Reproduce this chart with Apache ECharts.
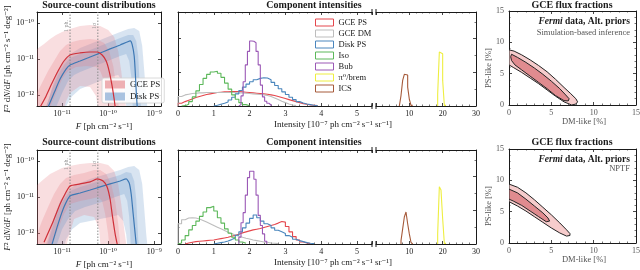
<!DOCTYPE html>
<html><head><meta charset="utf-8">
<script src="https://cdn.jsdelivr.net/npm/echarts@6/dist/echarts.min.js"></script>
<style>html,body{margin:0;padding:0;background:#fff}#c{width:640px;height:270px}</style>
</head><body><div id="c"></div>
<script>
// ---------------- DATA ----------------
// Panel 1: source-count distributions, [F, F^2 dN/dF]
const redLineTop = [[3.33e-12,4.64e-13],[4.49e-12,9.37e-13],[6.07e-12,2.15e-12],[8.18e-12,4.64e-12],[1.10e-11,8.80e-12],[1.49e-11,1.29e-11],[2.46e-11,1.47e-11],[4.06e-11,1.56e-11],[5.77e-11,1.56e-11],[7.41e-11,1.29e-11],[9.06e-11,8.80e-12],[1.05e-10,4.64e-12],[1.22e-10,1.78e-12],[1.35e-10,7.74e-13],[1.42e-10,4.64e-13]];
const blueLineTop = [[4.97e-12,4.64e-13],[6.70e-12,1.14e-12],[9.06e-12,2.78e-12],[1.22e-11,5.27e-12],[1.49e-11,6.81e-12],[2.46e-11,8.80e-12],[4.06e-11,1.14e-11],[6.70e-11,1.47e-11],[1.10e-10,1.90e-11],[1.82e-10,2.45e-11],[2.59e-10,2.96e-11],[3.01e-10,3.16e-11],[3.33e-10,2.45e-11],[3.67e-10,1.21e-11],[3.86e-10,4.64e-12],[4.06e-10,1.29e-12],[4.27e-10,4.64e-13]];
const redOuterUpTop = [[2.86e-12,1.90e-11],[4.06e-12,2.61e-11],[5.50e-12,3.59e-11],[7.41e-12,4.64e-11],[1.00e-11,5.62e-11],[1.49e-11,6.81e-11],[2.46e-11,8.25e-11],[4.06e-11,8.80e-11],[6.70e-11,8.25e-11],[1.00e-10,6.39e-11],[1.35e-10,4.08e-11],[1.65e-10,1.67e-11],[1.92e-10,4.64e-12],[2.23e-10,9.37e-13],[2.46e-10,4.64e-13],[2.59e-10,2.61e-13]];
const redOuterLoTop = [[2.59e-10,2.61e-13],[6.37e-11,2.61e-13],[5.48e-11,9.37e-13],[4.06e-11,1.67e-12],[2.46e-11,1.78e-12],[1.49e-11,1.14e-12],[1.22e-11,6.81e-13],[1.00e-11,2.61e-13],[2.86e-12,2.61e-13]];
const redMidUpTop = [[2.86e-12,1.14e-12],[3.67e-12,2.15e-12],[4.97e-12,4.64e-12],[6.70e-12,8.80e-12],[9.06e-12,1.67e-11],[1.22e-11,2.45e-11],[1.65e-11,2.96e-11],[2.46e-11,3.37e-11],[4.06e-11,3.59e-11],[6.07e-11,3.37e-11],[8.18e-11,2.78e-11],[1.05e-10,1.67e-11],[1.29e-10,6.39e-12],[1.49e-10,1.78e-12],[1.65e-10,6.81e-13],[1.73e-10,3.59e-13]];
const redMidLoTop = [[1.73e-10,2.61e-13],[1.05e-10,2.61e-13],[9.50e-11,9.37e-13],[8.18e-11,2.45e-12],[6.70e-11,4.64e-12],[5.48e-11,6.00e-12],[3.33e-11,6.39e-12],[2.01e-11,6.00e-12],[1.35e-11,4.64e-12],[1.00e-11,2.78e-12],[7.41e-12,1.14e-12],[5.50e-12,4.64e-13],[4.06e-12,2.61e-13],[2.86e-12,2.61e-13]];
const blueOuterUpTop = [[3.67e-12,2.61e-13],[4.97e-12,6.81e-13],[6.70e-12,2.45e-12],[9.06e-12,6.00e-12],[1.22e-11,1.00e-11],[1.65e-11,1.47e-11],[2.46e-11,2.02e-11],[4.06e-11,2.61e-11],[6.70e-11,3.37e-11],[1.10e-10,4.36e-11],[1.82e-10,5.62e-11],[2.72e-10,6.81e-11],[3.67e-10,7.26e-11],[4.72e-10,6.00e-11],[5.48e-10,2.30e-11],[6.07e-10,4.64e-12],[6.70e-10,9.37e-13],[7.41e-10,2.61e-13]];
const blueOuterLoTop = [[7.41e-10,2.61e-13],[2.59e-10,2.61e-13],[2.34e-10,9.37e-13],[2.01e-10,2.45e-12],[1.65e-10,3.59e-12],[1.10e-10,3.16e-12],[6.70e-11,2.45e-12],[4.06e-11,1.90e-12],[2.46e-11,1.47e-12],[1.65e-11,9.37e-13],[1.22e-11,4.94e-13],[9.06e-12,2.61e-13],[3.67e-12,2.61e-13]];
const blueMidUpTop = [[4.49e-12,4.64e-13],[6.07e-12,1.47e-12],[8.18e-12,3.59e-12],[1.10e-11,6.81e-12],[1.49e-11,1.07e-11],[2.46e-11,1.38e-11],[4.06e-11,1.78e-11],[6.70e-11,2.30e-11],[1.10e-10,2.96e-11],[1.82e-10,3.83e-11],[2.72e-10,4.64e-11],[3.49e-10,4.64e-11],[4.06e-10,3.16e-11],[4.49e-10,1.21e-11],[4.72e-10,3.37e-12],[4.97e-10,9.37e-13],[5.22e-10,3.59e-13]];
const blueMidLoTop = [[5.22e-10,2.61e-13],[3.49e-10,2.61e-13],[3.33e-10,9.37e-13],[3.16e-10,3.37e-12],[2.86e-10,8.80e-12],[2.46e-10,1.38e-11],[1.82e-10,1.21e-11],[1.10e-10,9.37e-12],[6.70e-11,7.26e-12],[4.06e-11,5.62e-12],[2.46e-11,4.36e-12],[1.82e-11,3.59e-12],[1.35e-11,2.45e-12],[1.00e-11,1.14e-12],[7.41e-12,4.64e-13],[5.50e-12,2.61e-13]];

const redLineBot = [[4.06e-12,5.62e-13],[6.07e-12,1.78e-12],[9.06e-12,6.39e-12],[1.16e-11,1.21e-11],[1.49e-11,2.02e-11],[2.46e-11,2.30e-11],[4.06e-11,2.61e-11],[5.77e-11,3.16e-11],[7.78e-11,2.78e-11],[9.50e-11,1.90e-11],[1.10e-10,8.80e-12],[1.22e-10,3.37e-12],[1.42e-10,9.37e-13],[1.57e-10,4.94e-13]];
const blueLineBot = [[6.07e-12,4.94e-13],[8.18e-12,1.78e-12],[1.10e-11,5.27e-12],[1.49e-11,1.07e-11],[2.46e-11,1.29e-11],[4.06e-11,1.56e-11],[6.70e-11,1.90e-11],[1.10e-10,2.30e-11],[1.82e-10,2.78e-11],[2.46e-10,3.16e-11],[2.86e-10,2.45e-11],[3.16e-10,1.21e-11],[3.49e-10,3.37e-12],[3.86e-10,9.37e-13],[4.06e-10,4.94e-13]];
const redOuterUpBot = [[2.86e-12,2.15e-11],[4.06e-12,3.16e-11],[5.50e-12,4.36e-11],[7.41e-12,5.27e-11],[1.00e-11,6.39e-11],[1.49e-11,7.26e-11],[2.46e-11,8.25e-11],[4.06e-11,8.80e-11],[6.70e-11,8.80e-11],[1.00e-10,7.74e-11],[1.35e-10,5.27e-11],[1.65e-10,2.30e-11],[1.92e-10,6.39e-12],[2.23e-10,1.29e-12],[2.46e-10,4.94e-13],[2.59e-10,2.61e-13]];
const redOuterLoBot = [[2.59e-10,2.61e-13],[7.05e-11,2.61e-13],[6.37e-11,1.29e-12],[4.97e-11,2.78e-12],[3.01e-11,3.16e-12],[1.82e-11,2.45e-12],[1.35e-11,6.81e-13],[1.10e-11,2.61e-13],[2.86e-12,2.61e-13]];
const redMidUpBot = [[2.86e-12,9.37e-13],[3.67e-12,2.15e-12],[4.97e-12,5.27e-12],[6.70e-12,1.21e-11],[9.06e-12,2.30e-11],[1.22e-11,3.37e-11],[1.82e-11,4.08e-11],[3.01e-11,4.64e-11],[4.97e-11,5.62e-11],[6.70e-11,5.62e-11],[9.06e-11,4.36e-11],[1.16e-10,2.30e-11],[1.42e-10,7.74e-12],[1.65e-10,1.78e-12],[1.82e-10,4.94e-13],[1.92e-10,2.61e-13]];
const redMidLoBot = [[1.92e-10,2.61e-13],[1.10e-10,2.61e-13],[1.00e-10,9.37e-13],[8.61e-11,3.37e-12],[7.41e-11,7.74e-12],[6.07e-11,1.00e-11],[4.06e-11,8.80e-12],[2.46e-11,7.74e-12],[1.49e-11,6.39e-12],[1.10e-11,3.37e-12],[8.18e-12,1.29e-12],[6.07e-12,4.94e-13],[4.49e-12,2.61e-13],[2.86e-12,2.61e-13]];
const blueOuterUpBot = [[3.67e-12,2.61e-13],[4.97e-12,6.81e-13],[6.70e-12,2.78e-12],[9.06e-12,7.74e-12],[1.22e-11,1.29e-11],[1.65e-11,1.90e-11],[2.46e-11,2.45e-11],[4.06e-11,3.16e-11],[6.70e-11,3.83e-11],[1.10e-10,4.64e-11],[1.82e-10,5.62e-11],[2.72e-10,6.81e-11],[3.67e-10,7.26e-11],[4.72e-10,5.62e-11],[5.48e-10,2.30e-11],[6.07e-10,4.64e-12],[6.70e-10,9.37e-13],[7.41e-10,2.61e-13]];
const blueOuterLoBot = [[7.41e-10,2.61e-13],[2.72e-10,2.61e-13],[2.46e-10,9.37e-13],[2.12e-10,2.15e-12],[1.65e-10,3.16e-12],[1.10e-10,2.78e-12],[6.70e-11,2.45e-12],[4.06e-11,2.15e-12],[2.46e-11,1.90e-12],[1.65e-11,1.29e-12],[1.22e-11,6.81e-13],[1.00e-11,2.61e-13],[3.67e-12,2.61e-13]];
const blueMidUpBot = [[4.49e-12,3.59e-13],[6.07e-12,1.29e-12],[8.18e-12,4.08e-12],[1.10e-11,8.80e-12],[1.49e-11,1.47e-11],[2.46e-11,1.90e-11],[4.06e-11,2.30e-11],[6.70e-11,2.78e-11],[1.10e-10,3.37e-11],[1.82e-10,4.08e-11],[2.46e-10,4.94e-11],[3.16e-10,4.64e-11],[3.67e-10,2.78e-11],[4.06e-10,8.80e-12],[4.27e-10,2.45e-12],[4.49e-10,6.81e-13],[4.72e-10,2.61e-13]];
const blueMidLoBot = [[4.72e-10,2.61e-13],[3.16e-10,2.61e-13],[3.01e-10,9.37e-13],[2.86e-10,2.78e-12],[2.59e-10,7.74e-12],[2.23e-10,1.21e-11],[1.42e-10,1.00e-11],[8.61e-11,7.74e-12],[5.22e-11,6.39e-12],[3.16e-11,5.27e-12],[1.92e-11,4.08e-12],[1.35e-11,2.45e-12],[1.00e-11,1.29e-12],[7.78e-12,4.94e-13],[6.07e-12,2.61e-13]];
const fluxLines = [1.49e-11, 5.97e-11];
const fluxLineNames = ['1 ph.', '1σ'];
const p1XTicks = [1e-11, 1e-10, 1e-9];
const p1YTicks = [1e-12, 1e-11, 1e-10];

// Panel 2: component intensity histograms {start, width, counts}
const histNames = ['GCE PS','GCE DM','Disk PS','Iso','Bub','π⁰/brem','ICS'];
const histTop = {
  'GCE PS': {start:0.0, width:0.1, counts:[0.08,0.13,0.17,0.21,0.25,0.28,0.31,0.34,0.36,0.38,0.40,0.41,0.42,0.42,0.43,0.43,0.43,0.42,0.41,0.40,0.39,0.38,0.37,0.36,0.35,0.33,0.31,0.28,0.25,0.22,0.19,0.16,0.13,0.10,0.07,0.05,0.03,0.02,0.01]},
  'GCE DM': {start:0.0, width:0.1, counts:[0.28,0.33,0.35,0.37,0.38,0.39,0.39,0.40,0.40,0.40,0.40,0.40,0.40,0.40,0.40,0.40,0.39,0.39,0.38,0.37,0.36,0.35,0.34,0.33,0.31,0.28,0.24,0.19,0.14,0.10,0.06,0.03,0.01]},
  'Disk PS': {start:1.0, width:0.1, counts:[0.02,0.05,0.08,0.12,0.18,0.26,0.36,0.46,0.56,0.65,0.72,0.78,0.82,0.84,0.83,0.78,0.70,0.61,0.51,0.42,0.34,0.26,0.19,0.13,0.09,0.06,0.04,0.02,0.01]},
  'Iso': {start:0.1, width:0.1, counts:[0.01,0.05,0.13,0.27,0.45,0.64,0.82,0.94,1.01,1.03,0.97,0.85,0.68,0.50,0.33,0.20,0.10,0.04,0.01]},
  'Bub': {start:1.70, width:0.06, counts:[0.04,0.30,0.72,1.22,1.62,1.93,1.92,1.88,1.62,1.22,0.62,0.27,0.14,0.08,0.03]},
  'π⁰/brem': {start:18.5, width:0.5, counts:[0.35,1.60,1.55,0.76,0.02]},
  'ICS': {start:7.0, width:0.5, counts:[0.05,0.31,0.76,0.94,0.92,0.56,0.20,0.02]}
};
const histBot = {
  'GCE PS': {start:0.2, width:0.1, counts:[0.03,0.05,0.07,0.08,0.09,0.10,0.11,0.12,0.14,0.16,0.18,0.20,0.23,0.26,0.29,0.33,0.36,0.39,0.42,0.44,0.46,0.49,0.52,0.55,0.58,0.62,0.67,0.65,0.52,0.36,0.22,0.12,0.06,0.03,0.01]},
  'GCE DM': {start:0.0, width:0.1, counts:[0.60,0.72,0.77,0.78,0.77,0.74,0.70,0.65,0.60,0.55,0.50,0.45,0.40,0.35,0.31,0.27,0.23,0.20,0.17,0.15,0.12,0.10,0.08,0.06,0.05,0.03,0.02,0.01]},
  'Disk PS': {start:1.0, width:0.1, counts:[0.02,0.04,0.06,0.09,0.13,0.18,0.26,0.36,0.48,0.62,0.76,0.86,0.78,0.68,0.60,0.55,0.48,0.41,0.36,0.31,0.25,0.20,0.14,0.10,0.07,0.04,0.02,0.01]},
  'Iso': {start:0.0, width:0.1, counts:[0.03,0.12,0.25,0.42,0.55,0.68,0.82,0.95,1.08,1.12,0.98,0.78,0.62,0.45,0.32,0.20,0.12,0.06,0.02]},
  'Bub': {start:1.70, width:0.06, counts:[0.20,0.63,0.93,1.45,1.97,2.16,2.16,1.92,1.45,0.85,0.55,0.30,0.08]},
  'π⁰/brem': {start:18.5, width:0.5, counts:[0.30,1.70,1.60,0.75,0.02]},
  'ICS': {start:7.5, width:0.5, counts:[0.10,0.45,0.80,0.95,0.60,0.30,0.05]}
};

// Panel 3: GCE flux fraction contours [DM-like %, PS-like %]
const contourOuterTop = [[0,8.8],[0.6,8.6],[1.5,8.0],[2.5,7.2],[3.5,6.3],[4.5,5.3],[5.5,4.1],[6.5,2.8],[7.3,1.8],[7.9,1.0],[8.1,0.5],[7.9,0.15],[7.4,0.0],[6.5,0.5],[5.5,1.4],[4.5,2.4],[3.5,3.4],[2.5,4.3],[1.5,5.2],[0.5,6.0],[0,6.4]];
const contourInnerTop = [[0.3,8.1],[1,7.6],[2,6.8],[3,5.9],[4,4.9],[5,3.8],[6,2.6],[6.7,1.6],[7.1,1.0],[7.0,0.65],[6.5,0.7],[5.5,1.5],[4.5,2.6],[3.5,3.6],[2.5,4.6],[1.5,5.6],[0.7,6.4],[0.3,7.1],[0.2,7.7]];
const contourOuterBot = [[0,9.4],[1,8.9],[2,8.0],[3,6.9],[4,5.7],[5,4.5],[6,3.2],[6.8,2.1],[7.2,1.5],[7.2,1.2],[6.8,1.1],[6,1.6],[5,2.4],[4,3.3],[3,4.2],[2,5.1],[1,5.9],[0,6.6]];
const contourInnerBot = [[0,8.6],[1,8.0],[2,7.0],[3,5.9],[4,4.8],[4.6,4.0],[4.8,3.5],[4.4,3.4],[3.5,4.2],[2.5,5.1],[1.5,6.0],[0.5,6.7],[0,7.0]];

// ---------------- STYLE / LAYOUT ----------------
const FONT = '"Liberation Serif", "DejaVu Serif", serif';
const INK = '#1a1a1a';
const histColors = {'GCE PS':'#e5474d','GCE DM':'#bdbdbd','Disk PS':'#4a86bd','Iso':'#5cb85a','Bub':'#9b59b6','π⁰/brem':'#eeee40','ICS':'#a65a3a'};
const RED_LINE = '#cf3039', BLUE_LINE = '#3d78b4';
const RED_BAND = 'rgba(228,118,124,0.24)', BLUE_BAND = 'rgba(92,142,196,0.24)';
const SUP = {'-':'⁻','0':'⁰','1':'¹','2':'²','3':'³','4':'⁴','5':'⁵','6':'⁶','7':'⁷','8':'⁸','9':'⁹'};
const supNum = n => String(n).split('').map(c => SUP[c]).join('');
const logFmt = v => '10' + supNum(Math.round(Math.log10(v)));

const rowTops = [12, 150];
const grids = [], xAxes = [], yAxes = [], series = [], graphic = [];
const p1XIndex = [];

function tickCfg(extra) { return Object.assign({show:true, inside:true, length:3, lineStyle:{color:INK, width:0.8}}, extra || {}); }
function minorCfg(n) { return {show:true, splitNumber:n, length:1.5, lineStyle:{color:INK, width:0.6}}; }
function axisLineCfg(show) { return {show: show, onZero:false, lineStyle:{color:INK, width:1}}; }
function labelCfg(show, extra) { return Object.assign({show: show, fontFamily: FONT, fontSize: 8, color: INK, margin: 4}, extra || {}); }

function addX(o) { xAxes.push(Object.assign({splitLine:{show:false}}, o)); return xAxes.length - 1; }
function addY(o) { yAxes.push(Object.assign({splitLine:{show:false}}, o)); return yAxes.length - 1; }

function polygonSeries(name, pts, xi, yi, fill, stroke, z) {
  return {
    type:'custom', name, xAxisIndex:xi, yAxisIndex:yi, silent:true, animation:false, z: z,
    data: pts, encode:{x:0, y:1},
    renderItem: function (params, api) {
      if (params.dataIndex !== 0) return null;
      const cs = params.coordSys;
      return {
        type:'polygon', shape:{points: pts.map(p => api.coord(p))},
        style:{fill: fill, stroke: stroke || null, lineWidth: stroke ? 1 : 0},
        clipPath:{type:'rect', shape:{x:cs.x, y:cs.y, width:cs.width, height:cs.height}}
      };
    }
  };
}
function histSeries(name, h, xi, yi) {
  const pts = [[h.start, 0]];
  h.counts.forEach((c, i) => pts.push([h.start + i * h.width, c]));
  pts.push([h.start + h.counts.length * h.width, 0]);
  return {type:'line', name, xAxisIndex:xi, yAxisIndex:yi, data:pts, step:'end', symbol:'none', showSymbol:false,
    lineStyle:{color:histColors[name], width:1.1}, itemStyle:{color:histColors[name]}, silent:true, animation:false, z:3};
}
function txt(x, y, text, font, o) {
  o = o || {};
  const align = o.align || 'center';
  graphic.push({type:'text', x:x, y:y, rotation:o.rot || 0, silent:true, z:50,
    style:{text:text, font:font, fill:o.fill || INK, align:align, verticalAlign:'middle', textAlign:align, textVerticalAlign:'middle', rich:o.rich}});
}

const rowData = [
  {line:[redLineTop, blueLineTop], red:[redOuterUpTop, redOuterLoTop, redMidUpTop, redMidLoTop], blue:[blueOuterUpTop, blueOuterLoTop, blueMidUpTop, blueMidLoTop], hist:histTop, contour:[contourOuterTop, contourInnerTop]},
  {line:[redLineBot, blueLineBot], red:[redOuterUpBot, redOuterLoBot, redMidUpBot, redMidLoBot], blue:[blueOuterUpBot, blueOuterLoBot, blueMidUpBot, blueMidLoBot], hist:histBot, contour:[contourOuterBot, contourInnerBot]}
];

rowData.forEach((rd, r) => {
  const top = rowTops[r];
  // ---- Panel 1 ----
  let g = grids.length;
  grids.push({left:37, top:top, width:124, height:94, outerBoundsMode:'none'});
  const logX = {type:'log', logBase:10, min:2.86e-12, max:1.4e-9, gridIndex:g};
  const logY = {type:'log', logBase:10, min:5e-13, max:2e-10, gridIndex:g};
  const x1 = addX(Object.assign({}, logX, {position:'bottom', axisLine:axisLineCfg(true), axisTick:tickCfg({customValues:p1XTicks}), axisLabel:labelCfg(true, {customValues:p1XTicks, formatter:logFmt})}));
  p1XIndex.push(x1);
  addX(Object.assign({}, logX, {position:'top', axisLine:axisLineCfg(true), axisTick:tickCfg({customValues:p1XTicks}), axisLabel:labelCfg(false)}));
  const y1 = addY(Object.assign({}, logY, {position:'left', axisLine:axisLineCfg(true), axisTick:tickCfg({customValues:p1YTicks}), axisLabel:labelCfg(true, {customValues:p1YTicks, formatter:logFmt, margin:3})}));
  addY(Object.assign({}, logY, {position:'right', axisLine:axisLineCfg(true), axisTick:tickCfg({customValues:p1YTicks}), axisLabel:labelCfg(false)}));
  series.push(polygonSeries('Disk PS', rd.blue[0].concat(rd.blue[1]), x1, y1, BLUE_BAND, null, 1));
  series.push(polygonSeries('GCE PS', rd.red[0].concat(rd.red[1]), x1, y1, RED_BAND, null, 1));
  series.push(polygonSeries('Disk PS', rd.blue[2].concat(rd.blue[3]), x1, y1, BLUE_BAND, null, 1));
  series.push(polygonSeries('GCE PS', rd.red[2].concat(rd.red[3]), x1, y1, RED_BAND, null, 1));
  fluxLines.forEach(v => series.push({type:'line', name:'flux-ref', xAxisIndex:x1, yAxisIndex:y1, data:[[v, 5e-13],[v, 2e-10]],
    symbol:'none', showSymbol:false, silent:true, animation:false, z:2, lineStyle:{color:'#8c8c8c', width:1, type:[1.5, 1.5]}}));
  series.push({type:'line', name:'Disk PS', xAxisIndex:x1, yAxisIndex:y1, data:rd.line[1], smooth:0.2, symbol:'none', showSymbol:false, clip:true, silent:true, animation:false, z:4,
    lineStyle:{color:BLUE_LINE, width:1.2}, itemStyle:{color:BLUE_LINE}});
  series.push({type:'line', name:'GCE PS', xAxisIndex:x1, yAxisIndex:y1, data:rd.line[0], smooth:0.2, symbol:'none', showSymbol:false, clip:true, silent:true, animation:false, z:4,
    lineStyle:{color:RED_LINE, width:1.2}, itemStyle:{color:RED_LINE}});

  // ---- Panel 2 left ----
  g = grids.length;
  grids.push({left:178, top:top, width:194, height:94, outerBoundsMode:'none'});
  const linX2 = {type:'value', min:0, max:5.42, interval:1, gridIndex:g};
  const linY2 = {type:'value', min:0, max:2.79, interval:1, gridIndex:g};
  const x2 = addX(Object.assign({}, linX2, {position:'bottom', axisLine:axisLineCfg(true), axisTick:tickCfg(), minorTick:minorCfg(5), axisLabel:labelCfg(true, {showMaxLabel:false})}));
  addX(Object.assign({}, linX2, {position:'top', axisLine:axisLineCfg(true), axisTick:tickCfg(), minorTick:minorCfg(5), axisLabel:labelCfg(false)}));
  const y2 = addY(Object.assign({}, linY2, {position:'left', axisLine:axisLineCfg(true), axisTick:tickCfg(), minorTick:minorCfg(2), axisLabel:labelCfg(false)}));
  ['GCE PS','GCE DM','Disk PS','Iso','Bub'].forEach(n => series.push(histSeries(n, rd.hist[n], x2, y2)));

  // ---- Panel 2 right ----
  g = grids.length;
  grids.push({left:376, top:top, width:100, height:94, outerBoundsMode:'none'});
  const linX3 = {type:'value', min:0, max:30, interval:10, gridIndex:g};
  const x3 = addX(Object.assign({}, linX3, {position:'bottom', axisLine:axisLineCfg(true), axisTick:tickCfg(), minorTick:minorCfg(5), axisLabel:labelCfg(true, {showMinLabel:false})}));
  addX(Object.assign({}, linX3, {position:'top', axisLine:axisLineCfg(true), axisTick:tickCfg(), minorTick:minorCfg(5), axisLabel:labelCfg(false)}));
  const y3 = addY({type:'value', min:0, max:2.79, interval:1, gridIndex:g, position:'right', axisLine:axisLineCfg(true), axisTick:tickCfg(), minorTick:minorCfg(2), axisLabel:labelCfg(false), splitLine:{show:false}});
  ['π⁰/brem','ICS'].forEach(n => series.push(histSeries(n, rd.hist[n], x3, y3)));

  // ---- Panel 3 ----
  g = grids.length;
  grids.push({left:509, top:top - 1, width:127, height:94, outerBoundsMode:'none'});
  const lin4 = {type:'value', min:0, max:15, interval:5, gridIndex:g};
  const grayLbl = {color:'#555'};
  const x4 = addX(Object.assign({}, lin4, {position:'bottom', axisLine:axisLineCfg(true), axisTick:tickCfg(), minorTick:minorCfg(5), axisLabel:labelCfg(true, grayLbl)}));
  addX(Object.assign({}, lin4, {position:'top', axisLine:axisLineCfg(true), axisTick:tickCfg(), minorTick:minorCfg(5), axisLabel:labelCfg(false)}));
  const y4 = addY(Object.assign({}, lin4, {position:'left', axisLine:axisLineCfg(true), axisTick:tickCfg(), minorTick:minorCfg(5), axisLabel:labelCfg(true, Object.assign({margin:5}, grayLbl))}));
  addY(Object.assign({}, lin4, {position:'right', axisLine:axisLineCfg(true), axisTick:tickCfg(), minorTick:minorCfg(5), axisLabel:labelCfg(false)}));
  series.push(polygonSeries('95%', rd.contour[0], x4, y4, '#f6cccc', '#222', 2));
  series.push(polygonSeries('68%', rd.contour[1], x4, y4, '#e08b8f', '#222', 3));

  // ---- texts ----
  const ty = r === 0 ? 5 : 142;
  const boldT = 'bold 10px ' + FONT;
  txt(99, ty, 'Source-count distributions', boldT);
  txt(314, ty, 'Component intensities', boldT);
  txt(572, ty, 'GCE flux fractions', boldT);
  const italicRich = {i:{fontStyle:'italic', fontFamily:FONT, fontSize:9, fill:INK}};
  txt(8, top + 47, '{i|F}² d{i|N}/d{i|F} [ph cm⁻² s⁻¹ deg⁻²]', '9px ' + FONT, {rot:Math.PI / 2, rich:italicRich});
  txt(104, top + 115, '{i|F} [ph cm⁻² s⁻¹]', '9px ' + FONT, {rich:italicRich});
  txt(333, top + 113, 'Intensity [10⁻⁷ ph cm⁻² s⁻¹ sr⁻¹]', '9px ' + FONT);
  txt(584, top + 110, 'DM-like [%]', '8.5px ' + FONT, {fill:'#555'});
  txt(489, top + 56, 'PS-like [%]', '8.5px ' + FONT, {fill:'#555', rot:Math.PI / 2});
  txt(630, top + 10, '{b|Fermi} data, Alt. priors', 'bold 9.5px ' + FONT, {align:'right', rich:{b:{fontStyle:'italic', fontWeight:'bold', fontFamily:FONT, fontSize:9.5, fill:INK}}});
  if (r === 0) txt(630, top + 21, 'Simulation-based inference', '8.5px ' + FONT, {align:'right', fill:'#555'});
  else txt(630, top + 19, 'NPTF', '8.5px ' + FONT, {align:'right', fill:'#555'});
  // axis-break marks
  [372, 376].forEach(bx => [top, top + 94].forEach(by => graphic.push({type:'line', silent:true, z:50, shape:{x1:bx, y1:by - 3, x2:bx, y2:by + 3}, style:{stroke:INK, lineWidth:1}})));
});

const option = {
  animation:false,
  backgroundColor:'#fff',
  textStyle:{fontFamily:FONT},
  grid: grids, xAxis: xAxes, yAxis: yAxes, series: series, graphic: graphic,
  legend: [
    {left:310, top:13, orient:'vertical', itemWidth:18, itemHeight:7, itemGap:2, selectedMode:false,
      textStyle:{fontFamily:FONT, fontSize:8.5, color:INK, lineHeight:9},
      data: histNames.map(n => ({name:n, icon:'rect', itemStyle:{color:'rgba(255,255,255,0)', borderColor:histColors[n], borderWidth:1}}))},
    {left:102, top:78, orient:'vertical', itemWidth:20, itemHeight:8, itemGap:3, selectedMode:false,
      backgroundColor:'rgba(255,255,255,0.85)', borderColor:'#d0d0d0', borderWidth:0.8, borderRadius:2, padding:[2,4,2,3],
      textStyle:{fontFamily:FONT, fontSize:9, color:INK, lineHeight:9},
      data:[{name:'GCE PS', icon:'rect', itemStyle:{color:'rgba(232,150,155,0.75)', borderWidth:0}},
            {name:'Disk PS', icon:'rect', itemStyle:{color:'rgba(140,175,215,0.75)', borderWidth:0}}]}
  ]
};
const chart = echarts.init(document.getElementById('c'), null, {renderer:'canvas'});
chart.setOption(option);

// rotated labels of the reference flux lines, placed with the axis scale
rowTops.forEach((top, r) => {
  fluxLines.forEach((v, i) => {
    const px = chart.convertToPixel({xAxisIndex: p1XIndex[r]}, v);
    txt(px - 3.5, top + 14, fluxLineNames[i], '6px ' + FONT, {fill:'#9a9a9a', rot:Math.PI / 2});
  });
});
chart.setOption({graphic: graphic});
</script></body></html>
